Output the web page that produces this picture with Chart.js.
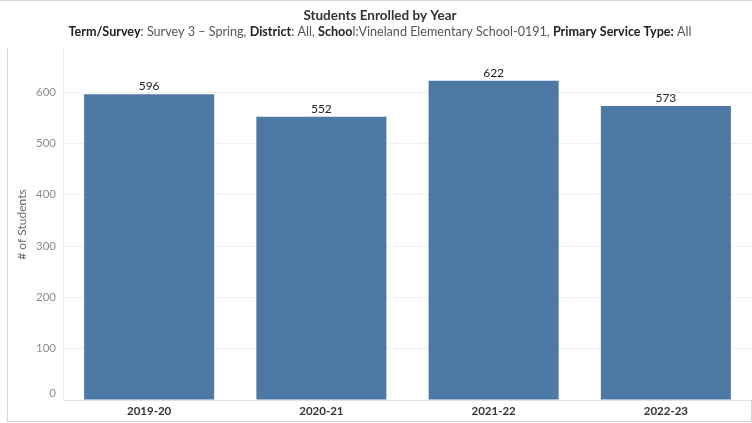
<!DOCTYPE html>
<html>
<head>
<meta charset="utf-8">
<script src="https://cdn.jsdelivr.net/npm/chart.js@4.4.1/dist/chart.umd.min.js"></script>
<style>
  html, body { margin: 0; padding: 0; background: #fff; }
  #wrap { position: relative; width: 752px; height: 423px; }
</style>
</head>
<body>
<div id="wrap"><canvas id="enrolChart" width="752" height="423"></canvas></div>
<script>
/* Students Enrolled by Year - Vineland Elementary */

const years = ['2019-20', '2020-21', '2021-22', '2022-23'];
const students = [596, 552, 622, 573];
const yTicks = [0, 100, 200, 300, 400, 500, 600];

const chartTitle = 'Students Enrolled by Year';
// [text, bold]
const subtitleParts = [
  ['Term/Survey', true], [': Survey 3 \u2013 Spring, ', false],
  ['District', true], [': All, ', false],
  ['Schoo', true], ['l:Vineland Elementary School-0191, ', false],
  ['Primary Service Type:', true], [' All', false]
];

const FONT = 'Lato, "Open Sans", sans-serif';
const BAR_BLUE = '#4e79a7';

// header text + frame lines
const headerPlugin = {
  id: 'header',
  afterDraw(chart) {
    const c = chart.ctx;
    c.save();
    // frame
    c.strokeStyle = '#d4d4d4';
    c.lineWidth = 1;
    c.beginPath();
    c.moveTo(0, 0.5); c.lineTo(752, 0.5);
    c.moveTo(7.5, 48); c.lineTo(7.5, 421.5);
    c.lineTo(752, 421.5);
    c.moveTo(751.5, 400); c.lineTo(751.5, 421.5);
    c.stroke();

    // title
    c.fillStyle = '#333';
    c.textAlign = 'center';
    c.textBaseline = 'middle';
    c.font = `bold 13.5px ${FONT}`;
    c.fillText(chartTitle, 380, 16);

    // subtitle with mixed weights, sized to span the reference width
    let size = 12.5;
    const measure = (s) => subtitleParts.reduce((w, p) => {
      c.font = `${p[1] ? 'bold ' : ''}${s}px ${FONT}`;
      return w + c.measureText(p[0]).width;
    }, 0);
    size = size * 624 / measure(size);
    const total = measure(size);
    let x = 380 - total / 2;
    c.textAlign = 'left';
    subtitleParts.forEach(p => {
      c.font = `${p[1] ? 'bold ' : ''}${size}px ${FONT}`;
      c.fillStyle = p[1] ? '#222' : '#555';
      c.fillText(p[0], x, 32);
      x += c.measureText(p[0]).width;
    });
    c.restore();
  }
};

// value labels above bars + bottom "0" tick label
const labelPlugin = {
  id: 'barLabels',
  afterDatasetsDraw(chart) {
    const c = chart.ctx;
    const meta = chart.getDatasetMeta(0);
    c.save();
    c.font = `12px ${FONT}`;
    c.fillStyle = '#222';
    c.textAlign = 'center';
    c.textBaseline = 'middle';
    meta.data.forEach((bar, i) => {
      c.fillText(students[i], bar.x, bar.y - 8);
    });
    // Tableau pulls the bottom axis label up inside the pane
    const yScale = chart.scales.y;
    c.font = `11.5px ${FONT}`;
    c.fillStyle = '#8c8c8c';
    c.textAlign = 'right';
    c.fillText('0', yScale.right - 7, yScale.getPixelForValue(0) - 7);
    c.restore();
  }
};

new Chart(document.getElementById('enrolChart'), {
  type: 'bar',
  data: {
    labels: years,
    datasets: [{
      label: '# of Students',
      data: students,
      backgroundColor: BAR_BLUE,
      borderWidth: 0,
      barPercentage: 0.755,
      categoryPercentage: 1
    }]
  },
  options: {
    responsive: false,
    animation: false,
    layout: { padding: { top: 49, left: 0, right: 0, bottom: 0 } },
    plugins: {
      legend: { display: false },
      tooltip: { enabled: false }
    },
    scales: {
      x: {
        grid: { display: false, drawTicks: false },
        border: { display: true, color: '#e3e3e3' },
        ticks: {
          color: '#333',
          font: { family: FONT, size: 11.5, weight: 'bold' },
          padding: 4,
          maxRotation: 0
        },
        afterFit(scale) { scale.height = 23; }
      },
      y: {
        min: 0,
        max: 684,
        afterBuildTicks(axis) {
          axis.ticks = yTicks.map(v => ({ value: v }));
        },
        grid: { color: '#f0f0f0', drawTicks: false },
        border: { display: true, color: '#ebebeb' },
        ticks: {
          color: '#8c8c8c',
          font: { family: FONT, size: 11.5 },
          padding: 7,
          callback: (v) => (v === 0 ? '' : v)
        },
        title: {
          display: true,
          text: '# of Students',
          color: '#666',
          font: { family: FONT, size: 12 },
          padding: { top: 15, bottom: 0 }
        },
        afterFit(scale) { scale.width = 63; }
      }
    }
  },
  plugins: [headerPlugin, labelPlugin]
});
</script>
</body>
</html>
